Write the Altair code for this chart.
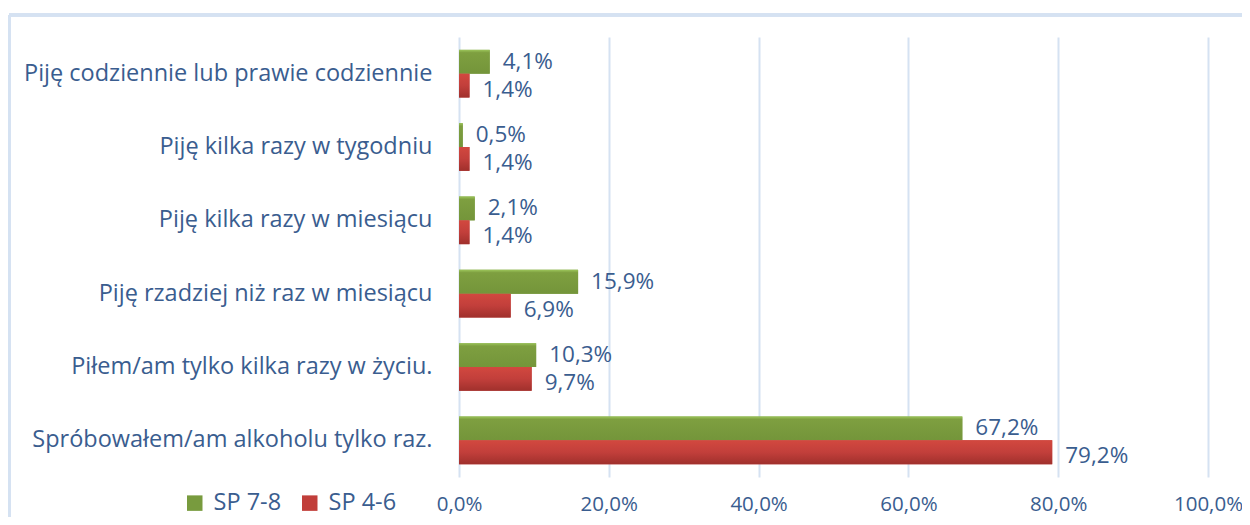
import altair as alt
import pandas as pd

categories = [
    "Piję codziennie lub prawie codziennie",
    "Piję kilka razy w tygodniu",
    "Piję kilka razy w miesiącu",
    "Piję rzadziej niż raz w miesiącu",
    "Piłem/am tylko kilka razy w życiu.",
    "Spróbowałem/am alkoholu tylko raz.",
]
series = ["SP 7-8", "SP 4-6"]
sp78 = [4.1, 0.5, 2.1, 15.9, 10.3, 67.2]
sp46 = [1.4, 1.4, 1.4, 6.9, 9.7, 79.2]
colors = ["#789B3E", "#C13E3A"]
gradients = [
    [("#9CC55A", 0.0), ("#7E9F40", 0.12), ("#74953A", 1.0)],
    [("#D2483F", 0.0), ("#C23F3B", 0.5), ("#A0302C", 1.0)],
]
x_ticks = [0, 20, 40, 60, 80, 100]

rows = []
for c, a, b in zip(categories, sp78, sp46):
    rows.append({"cat": c, "series": series[0], "value": a})
    rows.append({"cat": c, "series": series[1], "value": b})
df = pd.DataFrame(rows)
df["label"] = df["value"].map(lambda v: f"{v:.1f}%".replace(".", ","))

TXT = "#3A5D8F"
FONT = "Open Sans"

y_scale = alt.Scale(paddingInner=0.35, paddingOuter=0.175)
y_enc = alt.Y("cat:N", sort=categories, title=None, scale=y_scale,
              axis=alt.Axis(domain=False, ticks=False, grid=False,
                            labelFontSize=23.5, labelColor=TXT, labelFont=FONT,
                            labelPadding=27, labelLimit=500))
x_enc = alt.X("value:Q", title=None,
              scale=alt.Scale(domain=[0, 100], nice=False),
              axis=alt.Axis(values=x_ticks, domain=False, ticks=False,
                            grid=True, gridColor="#D5E2F2", gridWidth=2,
                            labelFontSize=20.5, labelColor=TXT, labelFont=FONT,
                            labelPadding=17, labelFlush=False,
                            labelExpr="replace(format(datum.value, '.1f'), '.', ',') + '%'"))

base = alt.Chart(df)
yoff = alt.YOffset("series:N", sort=series, scale=alt.Scale(domain=series))

bars = base.mark_bar().encode(
    y=y_enc,
    x=x_enc,
    yOffset=yoff,
    color=alt.Color("series:N", sort=series,
                    scale=alt.Scale(domain=series, range=colors),
                    legend=alt.Legend(title=None, orient="none", direction="horizontal",
                                      legendX=-276, legendY=454,
                                      symbolType="square", symbolSize=240,
                                      symbolStrokeWidth=0,
                                      labelFontSize=23.5, labelColor=TXT, labelFont=FONT,
                                      columnPadding=16, labelOffset=7)),
)


def shaded(s, stops):
    grad = alt.Gradient(gradient="linear", x1=0, y1=0, x2=0, y2=1,
                        stops=[alt.GradientStop(color=c, offset=o) for c, o in stops])
    return base.transform_filter(alt.datum.series == s).mark_bar(fill=grad).encode(
        y=alt.Y("cat:N", sort=categories),
        x="value:Q",
        yOffset=yoff,
    )


def value_labels(s, dy):
    return base.transform_filter(alt.datum.series == s).mark_text(
        align="left", baseline="middle", dx=13, dy=dy,
        fontSize=22.5, font=FONT, color=TXT).encode(
        y=alt.Y("cat:N", sort=categories),
        x="value:Q",
        yOffset=yoff,
        text="label:N",
    )


frame_top = alt.Chart(df).mark_rule(color="#D5E2F2", strokeWidth=3).encode(
    x=alt.value(-450), x2=alt.value(783), y=alt.value(-22))
frame_left = alt.Chart(df).mark_rule(color="#D5E2F2", strokeWidth=3).encode(
    x=alt.value(-450), y=alt.value(-22), y2=alt.value(480))

chart = alt.layer(
    frame_top, frame_left, bars,
    shaded(series[0], gradients[0]), shaded(series[1], gradients[1]),
    value_labels(series[0], 0), value_labels(series[1], 4),
).properties(
    width=749, height=440,
    padding={"left": 451, "top": 29, "right": 34, "bottom": 40},
    autosize=alt.AutoSizeParams(type="none"),
).configure_view(stroke=None)

chart.save("out.html", embed_options={"renderer": "svg", "actions": False})
